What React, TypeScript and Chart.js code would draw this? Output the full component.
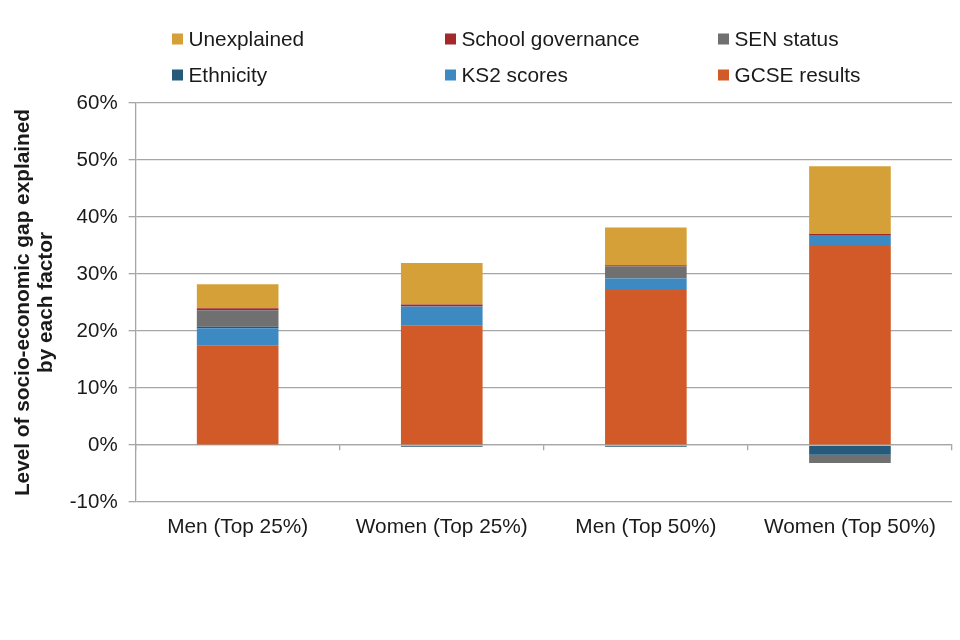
import React, { useEffect, useRef } from "react";
import { Chart, registerables } from "chart.js";

Chart.register(...registerables);

const categories = ["Men (Top 25%)", "Women (Top 25%)", "Men (Top 50%)", "Women (Top 50%)"];
const gcseResults = [17.5, 21.0, 27.2, 34.9];
const ks2Scores = [3.0, 3.3, 2.0, 1.8];
const ethnicity = [0.25, -0.3, -0.3, -1.7];
const senStatus = [2.9, 0, 2.1, -1.45];
const schoolGovernance = [0.35, 0.35, 0.25, 0.3];
const unexplained = [4.2, 7.3, 6.6, 11.9];
const yTicks = [-10, 0, 10, 20, 30, 40, 50, 60];

const FONT = "'Liberation Sans', Arial, sans-serif";
const TEXT = "#1a1a1a";
const GRID = "#a6a6a6";

const gridLegend = {
  id: "gridLegend",
  afterDraw(chart: any) {
    const ctx = chart.ctx;
    const ds = [...chart.data.datasets].reverse();
    ctx.save();
    ctx.font = `20.8px ${FONT}`;
    ctx.textBaseline = "middle";
    ctx.textAlign = "left";
    ds.forEach((d: any, i: number) => {
      const col = i % 3;
      const row = Math.floor(i / 3);
      const x = 172 + col * 273;
      const y = 39 + row * 36;
      ctx.fillStyle = d.backgroundColor;
      ctx.fillRect(x, y - 5.5, 11, 11);
      ctx.fillStyle = TEXT;
      ctx.fillText(d.label, x + 16.5, y + 1);
    });
    ctx.restore();
  },
};

export default function App() {
  const ref = useRef<HTMLCanvasElement | null>(null);
  useEffect(() => {
    if (!ref.current) return;
    const chart = new Chart(ref.current, {
      type: "bar",
      data: {
        labels: categories,
        datasets: [
          { label: "GCSE results", data: gcseResults, backgroundColor: "#D15A28" },
          { label: "KS2 scores", data: ks2Scores, backgroundColor: "#3D8AC3" },
          { label: "Ethnicity", data: ethnicity, backgroundColor: "#265A7B" },
          { label: "SEN status", data: senStatus, backgroundColor: "#707070" },
          { label: "School governance", data: schoolGovernance, backgroundColor: "#A3282A" },
          { label: "Unexplained", data: unexplained, backgroundColor: "#D5A038" },
        ].map((d) => ({ ...d, categoryPercentage: 1, barPercentage: 0.4, borderWidth: 0 })),
      },
      options: {
        responsive: false,
        animation: false,
        layout: { padding: { top: 103, right: 8, bottom: 95, left: 0 } },
        plugins: { legend: { display: false }, tooltip: { enabled: false }, title: { display: false } },
        scales: {
          x: {
            stacked: true,
            grid: { display: false },
            border: { display: false },
            ticks: { color: TEXT, font: { family: FONT, size: 20.8 }, padding: 5, maxRotation: 0, autoSkip: false },
          },
          x2: {
            type: "category",
            position: { y: 0 } as any,
            offset: true,
            grid: { offset: true, drawOnChartArea: false, drawTicks: true, tickLength: 5, color: GRID, lineWidth: 1.3 },
            border: { display: true, color: GRID, width: 1.3 },
            ticks: { display: false },
          },
          y: {
            stacked: true,
            min: -10,
            max: 60,
            afterBuildTicks: (scale: any) => {
              scale.ticks = yTicks.map((v) => ({ value: v }));
            },
            grid: { color: GRID, lineWidth: 1.3, tickLength: 7 },
            border: { color: GRID, width: 1.3 },
            ticks: {
              color: TEXT,
              font: { family: FONT, size: 20.5 },
              padding: 11,
              callback: (v: any) => `${v}%`,
            },
            title: {
              display: true,
              text: ["Level of socio-economic gap explained", "by each factor"],
              color: TEXT,
              font: { family: FONT, size: 20.8, weight: "bold", lineHeight: 1.1 },
              padding: { top: 12, bottom: 1 },
            },
          },
        },
      },
      plugins: [gridLegend],
    });
    return () => chart.destroy();
  }, []);
  return (
    <div style={{ position: "absolute", left: 0, top: 0, width: 960, height: 640, background: "#fff" }}>
      <canvas ref={ref} width={960} height={640} />
    </div>
  );
}
